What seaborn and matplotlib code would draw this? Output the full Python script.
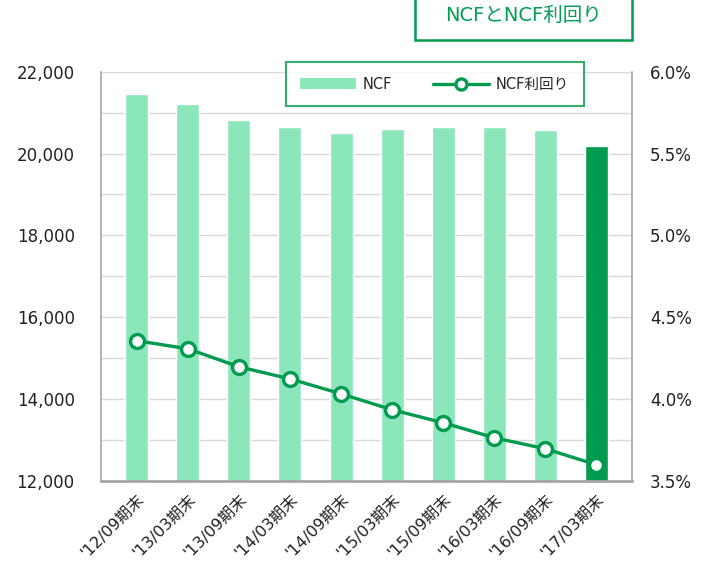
import numpy as np
import pandas as pd
import matplotlib
matplotlib.use('Agg')
import matplotlib.pyplot as plt
import seaborn as sns
from matplotlib.patches import Rectangle, Patch
from matplotlib.lines import Line2D
from matplotlib.ticker import FuncFormatter, MultipleLocator

# ── Data ─────────────────────────────────────────────────────────────────────
periods = ["'12/09期末", "'13/03期末", "'13/09期末", "'14/03期末", "'14/09期末",
           "'15/03期末", "'15/09期末", "'16/03期末", "'16/09期末", "'17/03期末"]
ncf = [21460, 21220, 20830, 20655, 20510, 20610, 20655, 20655, 20580, 20190]
ncf_yield = [4.356, 4.307, 4.197, 4.123, 4.032, 3.934, 3.855, 3.763, 3.696, 3.598]

LIGHT = '#8CE6BC'
DARK = '#009B4E'
GRID = '#D9D9D9'
SPINE = '#A6A6A6'

sns.set_theme(style='white')
plt.rcParams['font.family'] = ['DejaVu Sans', 'Noto Sans CJK JP']

df = pd.DataFrame({'period': periods, 'ncf': ncf, 'yield': ncf_yield})
df['pos'] = np.arange(len(df))

fig = plt.figure(figsize=(7.07, 5.65), dpi=100)
ax = fig.add_axes([0.143, 0.149, 0.751, 0.724])

colors = [LIGHT] * (len(df) - 1) + [DARK]
sns.barplot(data=df, x='period', y='ncf', hue='period', palette=colors,
            legend=False, width=0.45, saturation=1, ax=ax, zorder=2)
ax.set_ylim(12000, 22000)
ax.yaxis.set_major_locator(MultipleLocator(2000))
ax.yaxis.set_minor_locator(MultipleLocator(1000))
ax.yaxis.set_major_formatter(FuncFormatter(lambda v, p: f'{v:,.0f}'))
ax.grid(True, axis='y', which='both', color=GRID, lw=1, zorder=0)
ax.set_axisbelow(True)
ax.set_xlabel('')
ax.set_ylabel('')
ax.tick_params(axis='y', which='both', length=0, labelsize=12, pad=19, colors='#222222')
ax.tick_params(axis='x', length=0, labelsize=11.5, pad=8, colors='#222222')
plt.setp(ax.get_xticklabels(), rotation=45, ha='right', va='top',
         rotation_mode='anchor')
for s in ax.spines.values():
    s.set_color(SPINE)
    s.set_linewidth(1.2)
ax.spines['bottom'].set_linewidth(2)
ax.spines['top'].set_visible(False)

# ── NCF利回り (twin axis) ─────────────────────────────────────────────────────
ax2 = ax.twinx()
sns.lineplot(data=df, x='pos', y='yield', color=DARK, lw=2.4, marker='o',
             markersize=10, markerfacecolor='white', markeredgecolor=DARK,
             markeredgewidth=2.4, ax=ax2, zorder=3)
ax2.set_ylim(3.5, 6.0)
ax2.set_xlim(ax.get_xlim())
ax2.yaxis.set_major_locator(MultipleLocator(0.5))
ax2.yaxis.set_major_formatter(FuncFormatter(lambda v, p: f'{v:.1f}%'))
ax2.tick_params(axis='y', length=0, labelsize=12, pad=13, colors='#222222')
ax2.set_ylabel('')
ax2.grid(False)
for s in ax2.spines.values():
    s.set_visible(False)

# ── Legend ───────────────────────────────────────────────────────────────────
handles = [Patch(facecolor=LIGHT, edgecolor='none'),
           Line2D([0], [0], color=DARK, lw=2.4, marker='o', markersize=8,
                  markerfacecolor='white', markeredgecolor=DARK, markeredgewidth=2.4)]
leg = fig.legend(handles, ['NCF', 'NCF利回り'], ncol=2, loc='center',
                 bbox_to_anchor=(0.615, 0.851), frameon=True, fancybox=False,
                 fontsize=10.5, handlelength=3.8, handleheight=0.7,
                 columnspacing=2.8, borderpad=1.0, handletextpad=0.5,
                 borderaxespad=0)
leg.get_frame().set_edgecolor(DARK)
leg.get_frame().set_linewidth(1.5)

# ── Title box ────────────────────────────────────────────────────────────────
fig.patches.append(Rectangle((0.587, 0.929), 0.307, 0.09, transform=fig.transFigure,
                             facecolor='white', edgecolor=DARK, lw=1.8))
fig.text(0.7405, 0.972, 'NCFとNCF利回り', ha='center', va='center',
         fontsize=14, color='#00A051')

fig.savefig('out.png', dpi=100)
